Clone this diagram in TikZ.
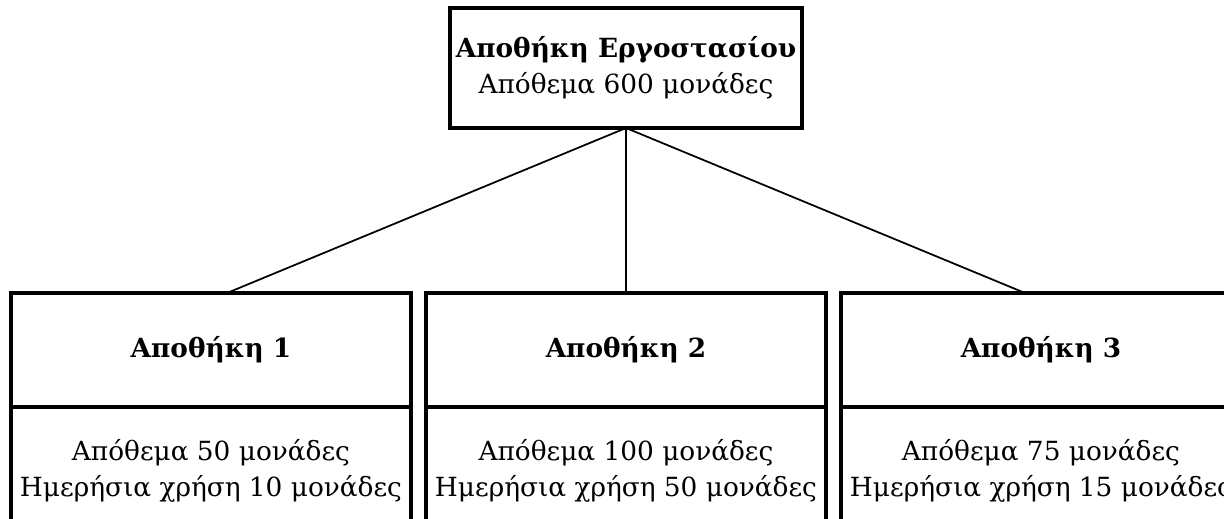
\documentclass[tikz,border=0pt]{standalone}
\usepackage{fontspec}
\setmainfont{DejaVu Serif}
\usetikzlibrary{positioning}

\begin{document}
\begin{tikzpicture}[node distance={3.3cm}, line width=1.9pt,
  main/.style = {draw, rectangle, align=center, outer sep=0pt, font=\fontsize{15}{20.5}\selectfont},
  head/.style = {main, minimum width=8cm, minimum height=2.28cm, font=\bfseries\fontsize{15}{20.5}\selectfont},
  info/.style = {main, minimum width=8cm, minimum height=2.56cm},
  link/.style = {line width=1pt}]
  \useasboundingbox (0,0) rectangle (24.48,10.36);
  \clip (0,0) rectangle (24.48,10.36);
  \node[main, minimum width=6.74cm, minimum height=2.4cm] (0) at (12.52,9.0) {\textbf{Αποθήκη Εργοστασίου}\\Απόθεμα 600 μονάδες};
  \node[head, below=of 0] (2) {Αποθήκη 2};
  \node[head, left=0.3cm of 2] (1) {Αποθήκη 1};
  \node[head, right=0.3cm of 2] (3) {Αποθήκη 3};
  \node[info, below=0cm of 1] (4) {Απόθεμα 50 μονάδες\\Ημερήσια χρήση 10 μονάδες};
  \node[info, below=0cm of 2] (5) {Απόθεμα 100 μονάδες\\Ημερήσια χρήση 50 μονάδες};
  \node[info, below=0cm of 3] (6) {Απόθεμα 75 μονάδες\\Ημερήσια χρήση 15 μονάδες};
  \draw[link] (0.south) to ([xshift=0.32cm]1.north);
  \draw[link] (0.south) to (2.north);
  \draw[link] (0.south) to ([xshift=-0.32cm]3.north);
\end{tikzpicture}
\end{document}
